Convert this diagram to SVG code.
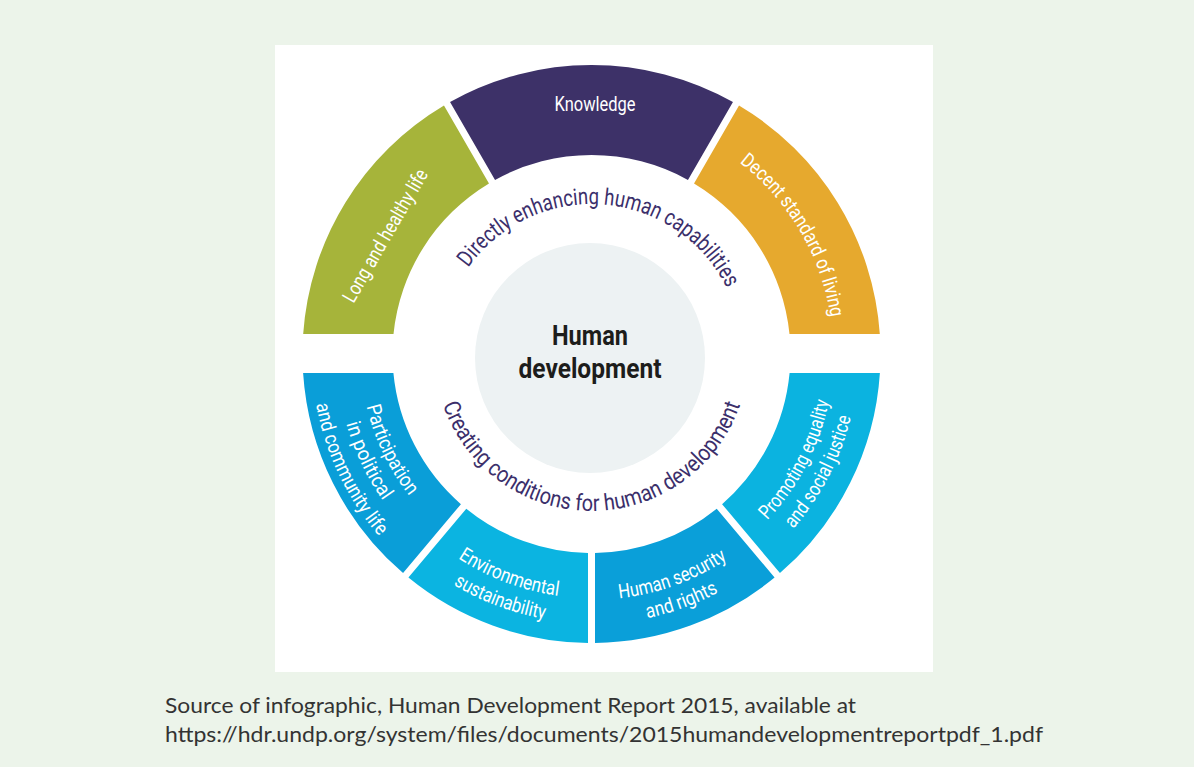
<svg xmlns="http://www.w3.org/2000/svg" width="1194" height="767" viewBox="0 0 1194 767">
  <style>
    .seg-label { font-family: "Roboto", "Liberation Sans", sans-serif; font-size: 20px; fill: #ffffff; }
    .ring-label { font-family: "Roboto", "Liberation Sans", sans-serif; font-size: 23px; fill: #3b2f6b; }
    .core-label { font-family: "Roboto", "Liberation Sans", sans-serif; font-size: 28px; font-weight: bold; fill: #1d1d1b; }
    .caption { font-family: "Lato", "Liberation Sans", sans-serif; font-size: 22px; fill: #333333; }
  </style>
  <defs>
    <!-- inner guide arcs for the two ring headings -->
    <path id="arc-top" d="M 440.97,342.15 A 151 151 0 0 1 742.03,365.85"/>
    <path id="arc-bottom" d="M 434.5,354 A 157 157 0 0 0 748.5,354"/>
    <!-- label arcs inside the ring segments -->
    <path id="arc-decent" d="M 589.39,112.01 A 242 242 0 0 1 802.14,473.16"/>
    <path id="arc-part1" d="M 401.13,223.16 A 231 231 0 0 0 573.37,584.28"/>
    <path id="arc-part2" d="M 381.35,209.57 A 255 255 0 0 0 571.48,608.21"/>
    <path id="arc-part3" d="M 360.75,195.41 A 280 280 0 0 0 569.52,633.13"/>
    <path id="arc-env1" d="M 350.84,394.26 A 244 244 0 0 0 746.71,542.27"/>
    <path id="arc-env2" d="M 326.19,398.39 A 269 269 0 0 0 762.61,561.56"/>
    <path id="arc-sec1" d="M 433.37,542.44 A 246 246 0 0 0 833.76,396.71"/>
    <path id="arc-sec2" d="M 417.94,560.82 A 270 270 0 0 0 857.40,400.87"/>
    <path id="arc-prom1" d="M 602.90,595.73 A 242 242 0 0 0 795.14,223.27"/>
    <path id="arc-prom2" d="M 604.08,620.71 A 267 267 0 0 0 816.18,209.77"/>
  </defs>

  <!-- page and card -->
  <rect x="0" y="0" width="1194" height="767" fill="#ecf4ea"/>
  <rect x="275" y="45" width="658" height="627" fill="#ffffff"/>

  <!-- upper half: directly enhancing human capabilities -->
  <g id="long-healthy-life">
    <path d="M 303.19,334 A 289 289 0 0 1 443.98,105.49 L 488.98,183.44 A 199 199 0 0 0 393.51,334 Z" fill="#a6b43a"/>
    <text class="seg-label" transform="translate(391,239) rotate(-60)" text-anchor="middle" textLength="150" lengthAdjust="spacingAndGlyphs">Long and healthy life</text>
  </g>
  <g id="knowledge">
    <path d="M 450.04,101.99 A 289 289 0 0 1 732.96,101.99 L 687.95,179.94 A 199 199 0 0 0 495.05,179.94 Z" fill="#3d3168"/>
    <text class="seg-label" x="595" y="111" text-anchor="middle" textLength="81" lengthAdjust="spacingAndGlyphs">Knowledge</text>
  </g>
  <g id="decent-standard-of-living">
    <path d="M 739.02,105.49 A 289 289 0 0 1 879.81,334 L 789.49,334 A 199 199 0 0 0 694.02,183.44 Z" fill="#e6a92e"/>
    <text class="seg-label"><textPath href="#arc-decent" startOffset="50%" text-anchor="middle" textLength="184" lengthAdjust="spacingAndGlyphs">Decent standard of living</textPath></text>
  </g>

  <!-- lower half: creating conditions for human development -->
  <g id="participation">
    <path d="M 303.1,373 L 393.4,373 A 199 199 0 0 0 460.92,504.16 L 403.06,573.11 A 289 289 0 0 1 303.1,373 Z" fill="#0a9ed8"/>
    <text class="seg-label"><textPath href="#arc-part1" startOffset="50%" text-anchor="middle" textLength="100" lengthAdjust="spacingAndGlyphs">Participation</textPath></text>
    <text class="seg-label"><textPath href="#arc-part2" startOffset="50%" text-anchor="middle" textLength="86" lengthAdjust="spacingAndGlyphs">in political</textPath></text>
    <text class="seg-label"><textPath href="#arc-part3" startOffset="50%" text-anchor="middle" textLength="148" lengthAdjust="spacingAndGlyphs">and community life</textPath></text>
  </g>
  <g id="environmental-sustainability">
    <path d="M 408.42,577.61 L 466.28,508.66 A 199 199 0 0 0 588,552.97 L 588,642.98 A 289 289 0 0 1 408.42,577.61 Z" fill="#0bb4e1"/>
    <text class="seg-label"><textPath href="#arc-env1" startOffset="50%" text-anchor="middle" textLength="108" lengthAdjust="spacingAndGlyphs">Environmental</textPath></text>
    <text class="seg-label"><textPath href="#arc-env2" startOffset="50%" text-anchor="middle" textLength="98" lengthAdjust="spacingAndGlyphs">sustainability</textPath></text>
  </g>
  <g id="human-security-rights">
    <path d="M 595,552.97 A 199 199 0 0 0 716.72,508.66 L 774.58,577.61 A 289 289 0 0 1 595,642.98 Z" fill="#0a9fd9"/>
    <text class="seg-label"><textPath href="#arc-sec1" startOffset="50%" text-anchor="middle" textLength="116" lengthAdjust="spacingAndGlyphs">Human security</textPath></text>
    <text class="seg-label"><textPath href="#arc-sec2" startOffset="50%" text-anchor="middle" textLength="76" lengthAdjust="spacingAndGlyphs">and rights</textPath></text>
  </g>
  <g id="equality-social-justice">
    <path d="M 722.08,504.16 A 199 199 0 0 0 789.6,373 L 879.9,373 A 289 289 0 0 1 779.94,573.11 Z" fill="#0bb3e0"/>
    <text class="seg-label"><textPath href="#arc-prom1" startOffset="50%" text-anchor="middle" textLength="136" lengthAdjust="spacingAndGlyphs">Promoting equality</textPath></text>
    <text class="seg-label"><textPath href="#arc-prom2" startOffset="50%" text-anchor="middle" textLength="127" lengthAdjust="spacingAndGlyphs">and social justice</textPath></text>
  </g>

  <!-- ring headings -->
  <g id="heading-capabilities">
    <text class="ring-label"><textPath href="#arc-top" startOffset="50%" text-anchor="middle" textLength="312" lengthAdjust="spacingAndGlyphs">Directly enhancing human capabilities</textPath></text>
  </g>
  <g id="heading-conditions">
    <text class="ring-label"><textPath href="#arc-bottom" startOffset="50%" text-anchor="middle" textLength="390" lengthAdjust="spacingAndGlyphs">Creating conditions for human development</textPath></text>
  </g>

  <!-- core -->
  <g id="human-development">
    <circle cx="590" cy="358" r="115" fill="#edf2f3"/>
    <text class="core-label" x="590" y="345" text-anchor="middle" textLength="76" lengthAdjust="spacingAndGlyphs">Human</text>
    <text class="core-label" x="590" y="378" text-anchor="middle" textLength="143" lengthAdjust="spacingAndGlyphs">development</text>
  </g>

  <!-- source note -->
  <g id="caption">
    <text class="caption" x="165" y="713" textLength="691" lengthAdjust="spacingAndGlyphs">Source of infographic, Human Development Report 2015, available at</text>
    <text class="caption" x="165" y="742" textLength="878" lengthAdjust="spacingAndGlyphs">https://hdr.undp.org/system/files/documents/2015humandevelopmentreportpdf_1.pdf</text>
  </g>
</svg>
